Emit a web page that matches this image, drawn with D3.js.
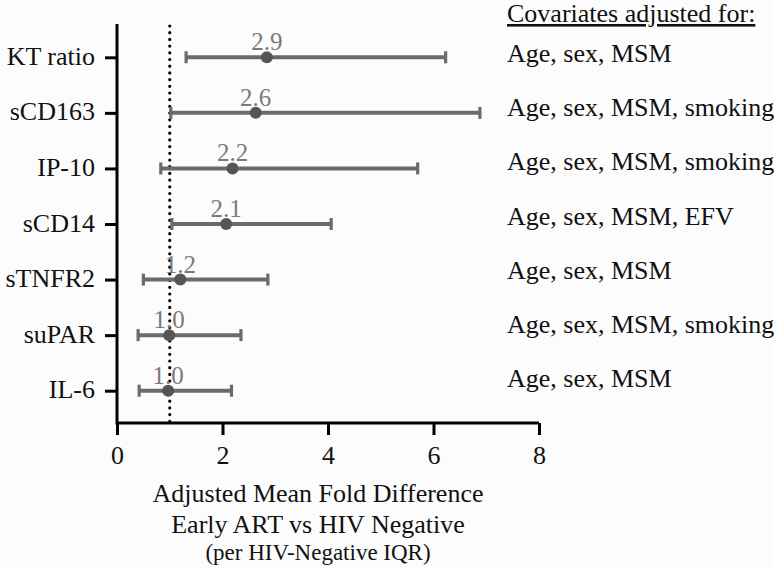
<!DOCTYPE html>
<html>
<head>
<meta charset="utf-8">
<script src="https://cdn.jsdelivr.net/npm/d3@7/dist/d3.min.js"></script>
<style>
  html, body { margin: 0; padding: 0; background: #fcfcfc; }
  svg { display: block; }
  text { font-family: "Liberation Serif", "Times New Roman", "DejaVu Serif", serif; }
</style>
</head>
<body>
<svg id="chart" width="774" height="568"></svg>
<script>
const categories = ["KT ratio", "sCD163", "IP-10", "sCD14", "sTNFR2", "suPAR", "IL-6"];
const estimates  = [2.84, 2.63, 2.19, 2.07, 1.20, 0.99, 0.97];
const lowerCI    = [1.31, 1.02, 0.83, 1.04, 0.50, 0.40, 0.42];
const upperCI    = [6.23, 6.88, 5.70, 4.06, 2.86, 2.35, 2.17];
const valueLabels = ["2.9", "2.6", "2.2", "2.1", "1.2", "1.0", "1.0"];
const covariates = ["Age, sex, MSM", "Age, sex, MSM, smoking", "Age, sex, MSM, smoking",
                    "Age, sex, MSM, EFV", "Age, sex, MSM", "Age, sex, MSM, smoking", "Age, sex, MSM"];
const xTicks = [0, 2, 4, 6, 8];
const referenceValue = 1;
const covariateHeader = "Covariates adjusted for:";
const axisTitleLines = ["Adjusted Mean Fold Difference", "Early ART vs HIV Negative", "(per HIV-Negative IQR)"];

(function () {
const data = categories.map((c, i) => ({
  cat: c, est: estimates[i], lo: lowerCI[i], hi: upperCI[i], label: valueLabels[i], cov: covariates[i]
}));

const svg = d3.select("#chart");
const pL = 117, pR = 539, pT = 24, pB = 423;
const serif = "'Liberation Serif', 'Times New Roman', 'DejaVu Serif', serif";

const x = d3.scaleLinear().domain([0, 8]).range([pL, pR]);
const y = d3.scalePoint().domain(categories).range([57.3, 390.7]);
const yCov = d3.scalePoint().domain(d3.range(categories.length)).range([62, 387]);

const barColor = "#6b6b6b";

// reference dotted line
svg.append("line")
  .attr("x1", x(referenceValue)).attr("x2", x(referenceValue))
  .attr("y1", pT + 2).attr("y2", pB)
  .attr("stroke", "#000").attr("stroke-width", 3.2)
  .attr("stroke-linecap", "round")
  .attr("stroke-dasharray", "0,6.7");

// error bars
const g = svg.append("g");
g.selectAll("line.ci").data(data).join("line").attr("class", "ci")
  .attr("x1", d => x(d.lo)).attr("x2", d => x(d.hi))
  .attr("y1", d => y(d.cat)).attr("y2", d => y(d.cat))
  .attr("stroke", barColor).attr("stroke-width", 4);
g.selectAll("line.capL").data(data).join("line").attr("class", "capL")
  .attr("x1", d => x(d.lo)).attr("x2", d => x(d.lo))
  .attr("y1", d => y(d.cat) - 6).attr("y2", d => y(d.cat) + 6)
  .attr("stroke", barColor).attr("stroke-width", 3.2);
g.selectAll("line.capR").data(data).join("line").attr("class", "capR")
  .attr("x1", d => x(d.hi)).attr("x2", d => x(d.hi))
  .attr("y1", d => y(d.cat) - 6).attr("y2", d => y(d.cat) + 6)
  .attr("stroke", barColor).attr("stroke-width", 3.2);
g.selectAll("circle").data(data).join("circle")
  .attr("cx", d => x(d.est)).attr("cy", d => y(d.cat)).attr("r", 6)
  .attr("fill", "#555");
g.selectAll("text.val").data(data).join("text").attr("class", "val")
  .attr("x", d => x(d.est)).attr("y", d => y(d.cat) - 7)
  .attr("text-anchor", "middle")
  .attr("font-family", serif)
  .attr("font-size", 25).attr("fill", "#7a7a7a")
  .text(d => d.label);

// axes
const xAxis = d3.axisBottom(x).tickValues(xTicks).tickSize(12).tickPadding(11).tickFormat(d3.format("d"));
const xg = svg.append("g").attr("transform", `translate(0,${pB})`).call(xAxis)
  .attr("font-family", serif);
xg.select(".domain").attr("d", `M${pL},0H${pR}`).attr("stroke", "#000").attr("stroke-width", 3);
xg.selectAll(".tick line").attr("stroke", "#000").attr("stroke-width", 3);
xg.selectAll(".tick text").attr("font-size", 26).attr("fill", "#111")
  .attr("font-family", serif).attr("dy", "0.71em");

const yAxis = d3.axisLeft(y).tickSize(12).tickPadding(10);
const yg = svg.append("g").attr("transform", `translate(${pL},0)`).call(yAxis)
  .attr("font-family", serif);
yg.select(".domain").attr("d", `M0,${pT}V${pB + 1.5}`).attr("stroke", "#000").attr("stroke-width", 3);
yg.selectAll(".tick line").attr("stroke", "#000").attr("stroke-width", 3);
yg.selectAll(".tick text").attr("font-size", 26).attr("fill", "#111")
  .attr("font-family", serif).attr("dy", "0.27em");

// axis title
const titleX = 318;
const titleY = [502, 533, 560];
const titleSize = [26, 26, 23];
axisTitleLines.forEach((t, i) => {
  svg.append("text").attr("x", titleX).attr("y", titleY[i])
    .attr("font-family", serif)
    .attr("text-anchor", "middle").attr("font-size", titleSize[i]).attr("fill", "#111").text(t);
});

// covariate column
const covX = 507;
svg.append("text").attr("x", covX).attr("y", 22).attr("font-size", 26).attr("fill", "#111")
  .attr("font-family", serif)
  .attr("text-decoration", "underline").text(covariateHeader);
svg.selectAll("text.cov").data(data).join("text").attr("class", "cov")
  .attr("x", covX).attr("y", (d, i) => yCov(i))
  .attr("font-family", serif)
  .attr("font-size", 26).attr("fill", "#111")
  .text(d => d.cov);
})();
</script>
</body>
</html>
